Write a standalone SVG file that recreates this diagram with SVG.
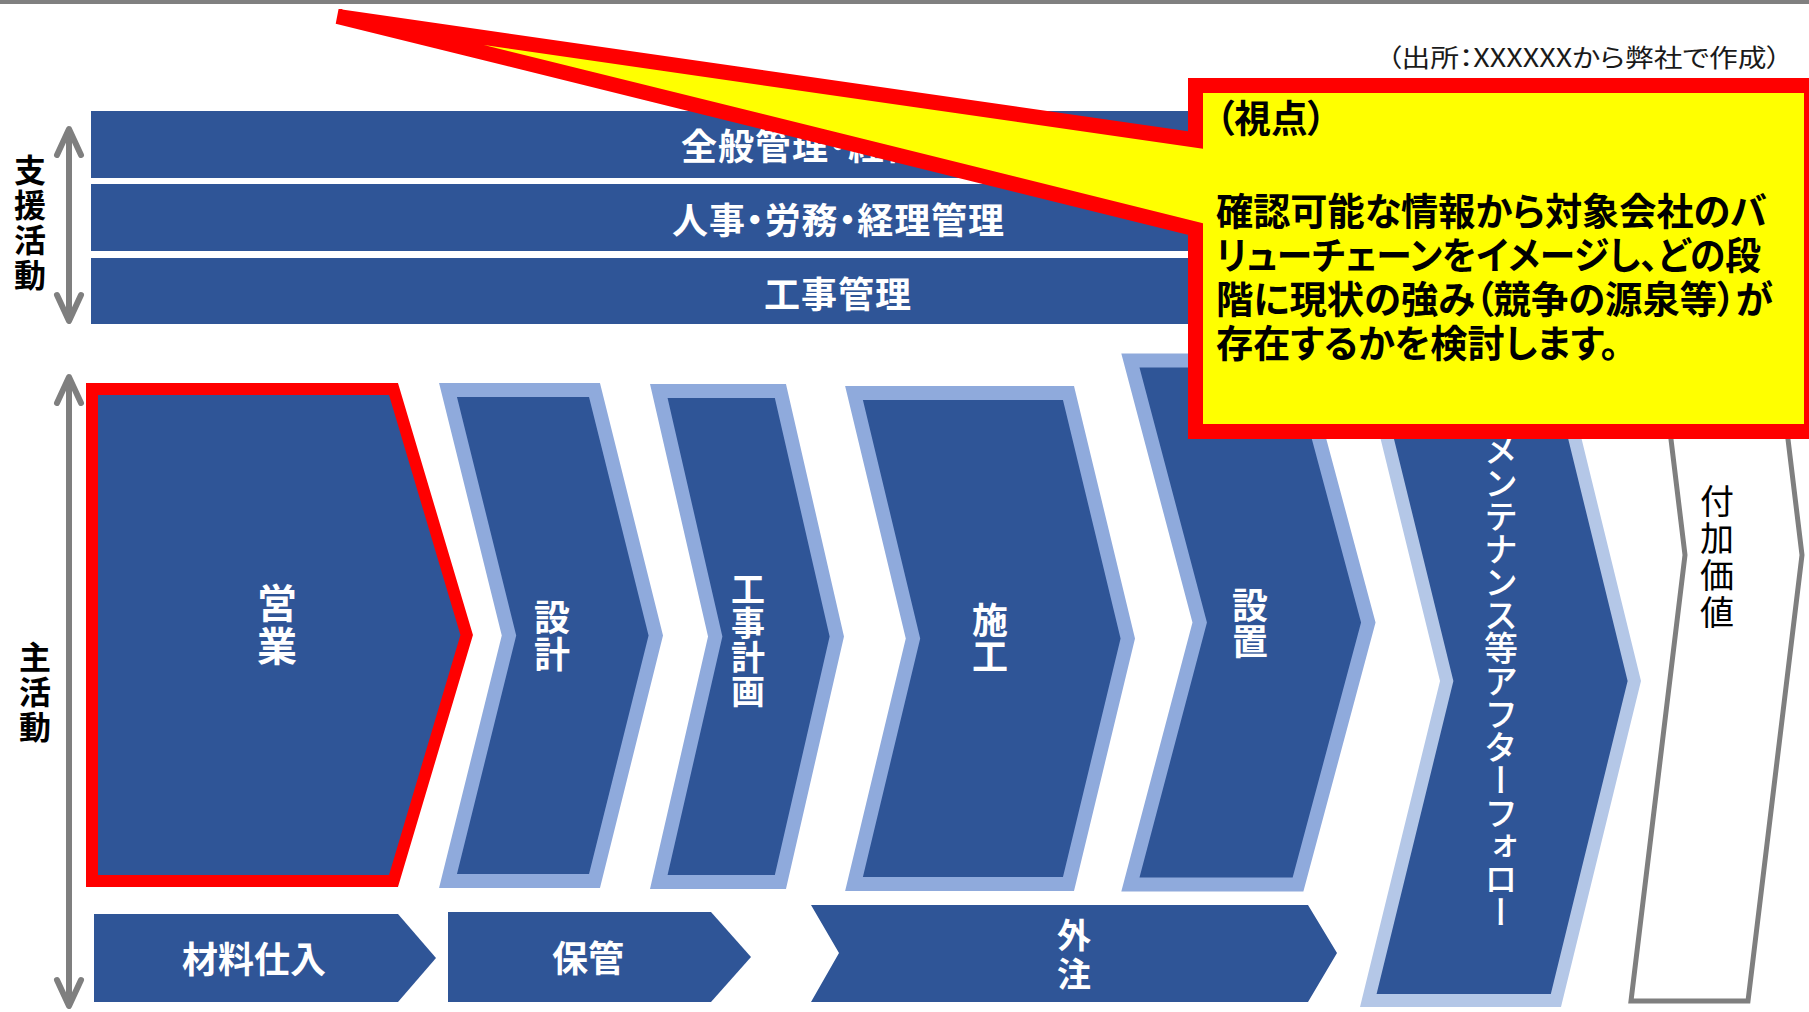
<svg xmlns="http://www.w3.org/2000/svg" width="1809" height="1012" viewBox="0 0 1809 1012">
<defs>
<style>
.t{font-family:"Noto Sans CJK JP","Noto Sans CJK SC",sans-serif;font-feature-settings:"palt"}
.w{fill:#fff;font-weight:700}
.k{fill:#000}
.b{font-weight:700}
.v{writing-mode:vertical-rl;text-anchor:middle;font-feature-settings:normal}
.bar{fill:#2F5597}
.ch{fill:#2F5597;stroke:#8FAADC;stroke-width:14;stroke-linejoin:miter}
.ch2{fill:#2F5597;stroke:#B4C7E7;stroke-width:13;stroke-linejoin:miter}
.sel{fill:#2F5597;stroke:#FF0000;stroke-width:12;stroke-linejoin:miter}
.av{fill:#fff;stroke:#7F7F7F;stroke-width:5;stroke-linejoin:miter}
.ar{stroke:#7F7F7F;stroke-width:6;fill:none}
</style>
<marker id="hd" markerUnits="userSpaceOnUse" viewBox="-30 -15 34 30" refX="0" refY="0" markerWidth="34" markerHeight="30" orient="auto-start-reverse" overflow="visible">
<path d="M-26,-12 L0,0 L-26,12" fill="none" stroke="#7F7F7F" stroke-width="6" stroke-linecap="round" stroke-linejoin="round"/>
</marker>
</defs>
<rect x="0" y="0" width="1809" height="4" fill="#808080"/>
<text class="t" x="1387" y="67" font-size="25" textLength="394" lengthAdjust="spacingAndGlyphs" fill="#1a1a1a">（出所：XXXXXXから弊社で作成）</text>

<g id="support-label"><text class="t k b v" x="30" y="224" font-size="32" letter-spacing="3">支援活動</text></g>
<g id="main-label"><text class="t k b v" x="35" y="693" font-size="32" letter-spacing="3">主活動</text></g>

<g id="connectors">
<line class="ar" x1="69" y1="129" x2="69" y2="321" marker-start="url(#hd)" marker-end="url(#hd)"/>
<line class="ar" x1="69" y1="377" x2="69" y2="1006" marker-start="url(#hd)" marker-end="url(#hd)"/>
</g>

<g id="bar-general"><rect class="bar" x="91" y="111" width="1494" height="67"/><text class="t w" x="681" y="160" font-size="36" textLength="314" lengthAdjust="spacing">全般管理・経営企画</text></g>
<g id="bar-hr"><rect class="bar" x="91" y="184" width="1494" height="67"/><text class="t w" x="672" y="234" font-size="36" textLength="332" lengthAdjust="spacing">人事・労務・経理管理</text></g>
<g id="bar-construction-mgmt"><rect class="bar" x="91" y="258" width="1494" height="66"/><text class="t w" x="764" y="308" font-size="36" textLength="147" lengthAdjust="spacing">工事管理</text></g>

<g id="sales"><polygon class="sel" points="92,389 393.5,389 466.7,635 393.5,881 92,881"/><text class="t w v" x="277" y="626" font-size="40" letter-spacing="3">営業</text></g>
<g id="design"><polygon class="ch" points="448,390 594.5,390 655.8,635.5 594.5,881 448,881 509,635.5"/><text class="t w v" x="552" y="636" font-size="36" letter-spacing="1">設計</text></g>
<g id="construction-plan"><polygon class="ch" points="658.8,391 780.4,391 836.8,636.5 780.4,882 658.8,882 715.2,636.5"/><text class="t w v" x="748" y="640" font-size="34">工事計画</text></g>
<g id="construction"><polygon class="ch" points="854,393 1068.5,393 1127.8,638.5 1068.5,884 854,884 913,638.5"/><text class="t w v" x="990" y="638" font-size="36">施工</text></g>
<g id="installation"><polygon class="ch" points="1130.4,360.5 1298,360.5 1368.3,622.5 1298,884.5 1130.4,884.5 1199.7,622.5" stroke-width="13"/><text class="t w v" x="1250" y="623" font-size="36">設置</text></g>
<g id="maintenance"><polygon class="ch2" points="1368.3,361.5 1555.9,361.5 1634.3,681 1555.9,1000.5 1368.3,1000.5 1446.7,681"/><text class="t v" x="1501" y="681" font-size="34" font-weight="500" letter-spacing="-1" fill="#fff">メンテナンス等アフターフォロー</text></g>
<g id="added-value"><polygon class="av" points="1631,109 1748,109 1802,555 1748,1001 1631,1001 1685,555"/><text class="t k v" x="1717" y="558" font-size="34" letter-spacing="3">付加価値</text></g>

<g id="procurement"><polygon class="bar" points="94,914 398,914 436,958 398,1002 94,1002"/><text class="t w" x="254" y="973" font-size="36" text-anchor="middle">材料仕入</text></g>
<g id="storage"><polygon class="bar" points="448,912 711,912 751,957 711,1002 448,1002"/><text class="t w" x="588" y="972" font-size="36" text-anchor="middle">保管</text></g>
<g id="outsourcing"><polygon class="bar" points="811,905 1308,905 1337,953 1308,1002 811,1002 839,953"/><text class="t w v" x="1074" y="957" font-size="34" letter-spacing="5">外注</text></g>

<g id="callout">
<path d="M1195.5,85.5 H1811.5 V431.5 H1195.5 V229 L337.5,16.4 L1195.5,140 Z" fill="#FFFF00" stroke="#FF0000" stroke-width="15" stroke-miterlimit="4"/>
<text class="t k b" font-size="38">
<tspan x="1216" y="132" textLength="110" lengthAdjust="spacingAndGlyphs">（視点）</tspan>
<tspan x="1216" y="225" textLength="551" lengthAdjust="spacingAndGlyphs">確認可能な情報から対象会社のバ</tspan>
<tspan x="1216" y="269" textLength="545" lengthAdjust="spacingAndGlyphs">リューチェーンをイメージし、どの段</tspan>
<tspan x="1216" y="313" textLength="557" lengthAdjust="spacingAndGlyphs">階に現状の強み（競争の源泉等）が</tspan>
<tspan x="1216" y="357" textLength="403" lengthAdjust="spacingAndGlyphs">存在するかを検討します。</tspan>
</text>
</g>
</svg>
